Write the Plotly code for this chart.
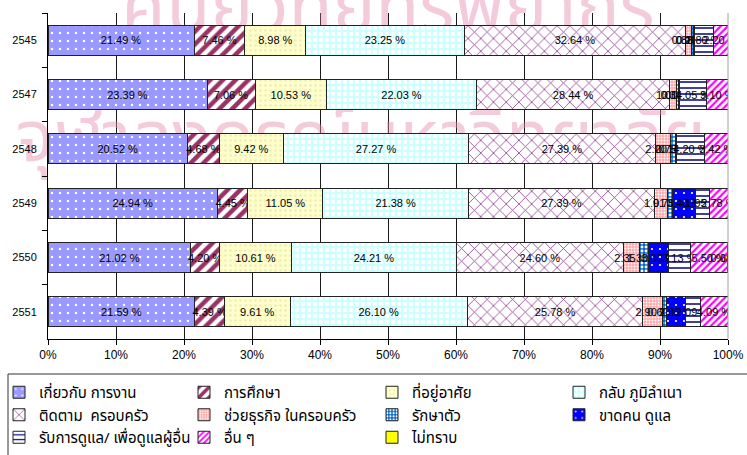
import plotly.graph_objects as go

# Survey years (Buddhist era) shown top to bottom
years = ["2545", "2547", "2548", "2549", "2550", "2551"]

# Reasons for migrating (legend labels)
reasons = [
    "เกี่ยวกับ การงาน", "การศึกษา", "ที่อยู่อาศัย", "กลับ ภูมิลำเนา",
    "ติดตาม  ครอบครัว", "ช่วยธุรกิจ ในครอบครัว", "รักษาตัว", "ขาดคน ดูแล",
    "รับการดูแล/ เพื่อดูแลผู้อื่น", "อื่น ๆ", "ไม่ทราบ",
]

# Share of migrants per reason, percent of each year's total
work = [21.49, 23.39, 20.52, 24.94, 21.02, 21.59]
education = [7.46, 7.06, 4.68, 4.45, 4.20, 4.39]
housing = [8.98, 10.53, 9.42, 11.05, 10.61, 9.61]
return_home = [23.25, 22.03, 27.27, 21.38, 24.21, 26.10]
follow_family = [32.64, 28.44, 27.39, 27.39, 24.60, 25.78]
family_business = [0.88, 1.00, 2.20, 1.91, 2.35, 2.90]
medical = [0.20, 0.30, 0.75, 0.75, 1.30, 0.60]
no_caretaker = [0.10, 0.10, 0.15, 3.40, 3.00, 2.85]
caregiving = [2.80, 4.05, 4.20, 1.95, 3.13, 2.09]
other = [2.20, 3.10, 3.42, 2.78, 5.50, 4.09]
unknown = [0.00, 0.00, 0.00, 0.00, 0.08, 0.00]

series = [work, education, housing, return_home, follow_family, family_business,
          medical, no_caretaker, caregiving, other, unknown]

x_ticks = list(range(0, 101, 10))

# Fill pattern per reason: (shape, background, foreground, size, solidity)
fills = [
    (".", "#9999FF", "#FFFFFF", 8, 0.08),
    ("/", "#FFFFFF", "#993366", 9, 0.5),
    (".", "#FFFFCC", "#EDEDB5", 5, 0.2),
    (".", "#CCFFFF", "#FFFFFF", 6, 0.45),
    ("x", "#FFFFFF", "#8E3A8E", 9, 0.17),
    (".", "#FFA8A8", "#FFFFFF", 3, 0.35),
    (".", "#0066CC", "#FFFFFF", 4, 0.4),
    (".", "#0000FF", "#FFFFFF", 8, 0.06),
    ("-", "#FFFFFF", "#000080", 6, 0.25),
    ("/", "#FFFFFF", "#FF00FF", 5, 0.45),
    ("", "#FFFF00", "#FFFF00", 8, 0.3),
]

label_font = dict(family="Arial, Liberation Sans, sans-serif", size=11, color="#000000")
thai_font = "Tahoma, 'Noto Sans Thai', 'Noto Sans', sans-serif"

fig = go.Figure()

# faint background stamp behind the chart
fig.add_trace(go.Scatter(
    x=[0.50, 0.46], y=[1.0, 0.60],
    mode="text",
    text=["ศูนย์วิทยทรัพยากร", "จุฬาลงกรณ์มหาวิทยาลัย"],
    textfont=dict(family=thai_font, size=72, color="rgba(228,140,172,0.45)"),
    cliponaxis=False, hoverinfo="skip", showlegend=False,
    xaxis="x", yaxis="y",
))

for i, (name, vals, f) in enumerate(zip(reasons, series, fills)):
    shape, bg, fg, size, solid = f
    fig.add_trace(go.Bar(
        name=name,
        y=years, x=vals,
        orientation="h",
        xaxis="x2", yaxis="y2",
        legend="legend" if i % 4 == 0 else f"legend{i % 4 + 1}",
        marker=dict(
            color=bg,
            line=dict(color="#222222", width=1),
            pattern=dict(shape=shape, bgcolor=bg, fgcolor=fg, size=size,
                         solidity=solid, fillmode="replace"),
        ),
        texttemplate="%{x:.2f} %",
        textposition="inside",
        insidetextanchor="middle",
        textangle=0,
        constraintext="none",
        insidetextfont=label_font,
        hoverinfo="skip",
    ))

W, H = 747, 455
L, R, T, B = 48, 19, 13, 116
pw, ph = W - L - R, H - T - B


def px_x(p):
    return (p - L) / pw


def px_y(p):
    return (H - B - p) / ph


legend_common = dict(
    orientation="v", xanchor="left", yanchor="top", traceorder="normal",
    font=dict(family=thai_font, size=15, color="#000000"),
    bgcolor="rgba(0,0,0,0)", borderwidth=0, tracegroupgap=0,
    itemclick=False, itemdoubleclick=False,
)
col_px = [-1, 184, 372, 559]
legend_top = 376

fig.update_layout(
    width=W, height=H,
    margin=dict(l=L, r=R, t=T, b=B, autoexpand=False),
    paper_bgcolor="#FFFFFF",
    plot_bgcolor="rgba(0,0,0,0)",
    barmode="stack",
    bargap=0.45,
    showlegend=True,
    xaxis=dict(range=[0, 1], visible=False, fixedrange=True),
    yaxis=dict(range=[0, 1], visible=False, fixedrange=True),
    xaxis2=dict(
        overlaying="x", range=[0, 100], tickvals=x_ticks,
        ticktext=[f"{v}%" for v in x_ticks],
        showgrid=True, gridcolor="#1A1A1A", gridwidth=1,
        showline=True, linecolor="#000000", linewidth=1,
        ticks="outside", ticklen=5, tickcolor="#000000",
        tickfont=dict(family="Arial, Liberation Sans, sans-serif", size=12, color="#000000"),
        zeroline=False, fixedrange=True,
    ),
    yaxis2=dict(
        overlaying="y", type="category", categoryorder="array",
        categoryarray=years, autorange="reversed",
        showgrid=False, showline=True, linecolor="#000000", linewidth=1,
        ticks="outside", ticklen=5, tickcolor="#000000", tickson="boundaries",
        ticklabelstandoff=8,
        tickfont=dict(family="Arial, Liberation Sans, sans-serif", size=11, color="#000000"),
        zeroline=False, fixedrange=True,
    ),
    legend=dict(x=px_x(col_px[0]), y=px_y(legend_top), **legend_common),
    legend2=dict(x=px_x(col_px[1]), y=px_y(legend_top), **legend_common),
    legend3=dict(x=px_x(col_px[2]), y=px_y(legend_top), **legend_common),
    legend4=dict(x=px_x(col_px[3]), y=px_y(legend_top), **legend_common),
    shapes=[
        # right edge of the plot area
        dict(type="line", xref="paper", yref="paper", x0=1, x1=1, y0=0, y1=1,
             line=dict(color="#A0A0A0", width=1)),
        # legend frame
        dict(type="rect", xref="paper", yref="paper",
             x0=px_x(8), x1=px_x(770), y0=px_y(374), y1=px_y(480),
             line=dict(color="#333333", width=1), fillcolor="rgba(0,0,0,0)"),
    ],
)

fig.write_html("out.html")
